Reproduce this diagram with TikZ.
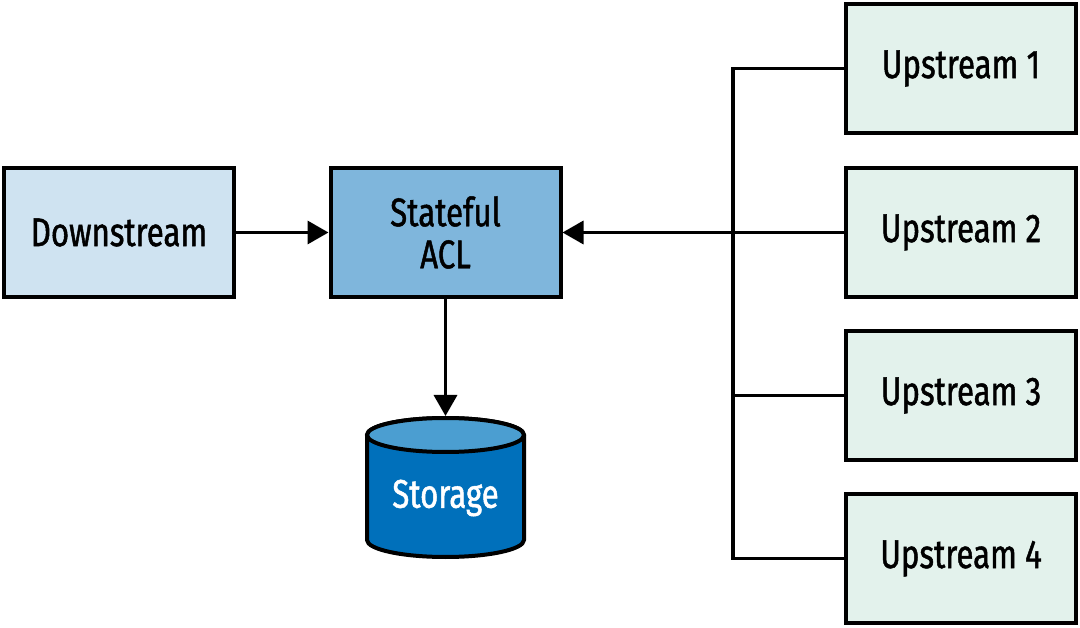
\documentclass[tikz,border=0pt]{standalone}
\usepackage{fontspec}
\setmainfont[FakeStretch=0.78,FakeBold=1.2]{Fira Sans}
\usetikzlibrary{arrows.meta,shapes.geometric}
\definecolor{downfill}{HTML}{CFE3F1}
\definecolor{aclfill}{HTML}{7FB6DC}
\definecolor{upfill}{HTML}{E3F2EC}
\definecolor{cylbody}{HTML}{0070BB}
\definecolor{cyltop}{HTML}{4B9ED1}
\tikzset{
  box/.style={draw=black, line width=4pt, minimum width=230pt, minimum height=129pt, inner sep=0pt, font=\fontsize{40}{42}\selectfont, align=center},
  conn/.style={line width=3.5pt},
  arr/.style={conn, -{Triangle[length=21pt,width=23pt]}},
}
\begin{document}
\begin{tikzpicture}[x=1pt,y=-1pt]
\useasboundingbox (0,0) rectangle (1080,628);
\node[box, fill=downfill] (down) at (119,232.5) {Downstream};
\node[box, fill=aclfill] (acl) at (445.5,232.5) {Stateful\\ACL};
\node[box, fill=upfill] (u1) at (961,68.5) {Upstream 1};
\node[box, fill=upfill] (u2) at (961,232.5) {Upstream 2};
\node[box, fill=upfill] (u3) at (961,395.5) {Upstream 3};
\node[box, fill=upfill] (u4) at (961,558.5) {Upstream 4};
% cylinder
\filldraw[fill=cylbody, draw=black, line width=4pt]
  (367,435) -- (367,540) arc[start angle=180, end angle=0, x radius=78.5, y radius=17] -- (524,435) arc[start angle=360, end angle=180, x radius=78.5, y radius=17] -- cycle;
\filldraw[fill=cyltop, draw=black, line width=4pt] (445.5,435) ellipse[x radius=78.5, y radius=17];
\node[font=\fontsize{40}{42}\selectfont, text=white] (stor) at (445.5,498) {Storage};
\coordinate (stortop) at (445.5,416);
% connectors
\coordinate (bus1) at (733,68.5);
\coordinate (bus4) at (733,558.5);
\draw[conn] (u1.west) -- (bus1) -- (bus4) -- (u4.west);
\draw[conn] (u3.west) -- (733,395.5);
\draw[arr] (u2.west) -- (acl.east);
\draw[arr] (down.east) -- (acl.west);
\draw[arr] (acl.south) -- (stortop);
\end{tikzpicture}
\end{document}
